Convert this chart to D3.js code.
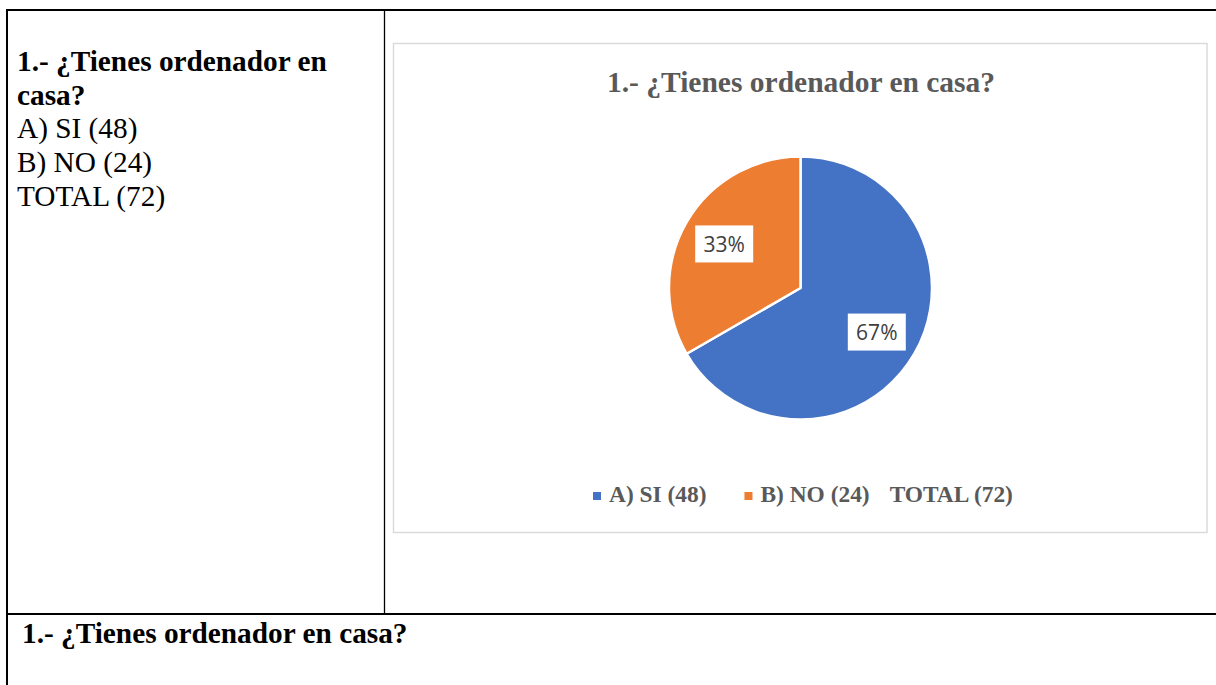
<!DOCTYPE html>
<html>
<head>
<meta charset="utf-8">
<script src="https://cdn.jsdelivr.net/npm/d3@7"></script>
<style>
  body { margin: 0; background: #fff; }
  svg { display: block; }
</style>
</head>
<body>
<div id="plot"></div>
<script>
// chart data
const question = "1.- ¿Tienes ordenador en casa?";
const categories = ["A) SI (48)", "B) NO (24)", "TOTAL (72)"];
const values = [48, 24, 0];
const colors = ["#4472C4", "#ED7D31", "none"];
const sideLines = ["A) SI (48)", "B) NO (24)", "TOTAL (72)"];

const width = 1216, height = 685;
const serif = "'Liberation Serif', 'Times New Roman', serif";

const svg = d3.select("#plot").append("svg")
    .attr("width", width)
    .attr("height", height);

// table grid
const grid = svg.append("g").attr("stroke", "#000").attr("fill", "none");
grid.append("line").attr("x1", 7).attr("x2", width).attr("y1", 10).attr("y2", 10).attr("stroke-width", 2);
grid.append("line").attr("x1", 7).attr("x2", 7).attr("y1", 9).attr("y2", height).attr("stroke-width", 2);
grid.append("line").attr("x1", 384.5).attr("x2", 384.5).attr("y1", 10).attr("y2", 614).attr("stroke-width", 1.3);
grid.append("line").attr("x1", 7).attr("x2", width).attr("y1", 614).attr("y2", 614).attr("stroke-width", 2);

// left cell text
const left = svg.append("text")
    .attr("x", 17)
    .attr("y", 71)
    .style("font-family", serif)
    .style("font-size", "29.3px")
    .attr("fill", "#000");
left.append("tspan").attr("x", 17).attr("dy", 0).style("font-weight", "bold").text("1.- ¿Tienes ordenador en");
left.append("tspan").attr("x", 17).attr("dy", 33.7).style("font-weight", "bold").text("casa?");
sideLines.forEach(t => {
    left.append("tspan").attr("x", 17).attr("dy", 33.7).text(t);
});

// bottom row text
svg.append("text")
    .attr("x", 22)
    .attr("y", 643)
    .style("font-family", serif)
    .style("font-size", "29.3px")
    .style("font-weight", "bold")
    .text(question);

// chart area frame
const box = { x: 393.5, y: 43.5, w: 813.5, h: 489 };
svg.append("rect")
    .attr("x", box.x).attr("y", box.y)
    .attr("width", box.w).attr("height", box.h)
    .attr("fill", "#fff")
    .attr("stroke", "#d9d9d9")
    .attr("stroke-width", 1.4);

// chart title
svg.append("text")
    .attr("x", 801)
    .attr("y", 92)
    .attr("text-anchor", "middle")
    .style("font-family", serif)
    .style("font-size", "29.5px")
    .style("font-weight", "bold")
    .attr("fill", "#595959")
    .text(question);

// pie
const cx = 800.5, cy = 288, r = 131.5;
const slices = categories.map((c, i) => ({ name: c, value: values[i], color: colors[i] }))
    .filter(d => d.value > 0);
const total = d3.sum(slices, d => d.value);

const pie = d3.pie().sort(null).value(d => d.value);
const arc = d3.arc().innerRadius(0).outerRadius(r);
const labelArc = d3.arc().innerRadius(r * 0.67).outerRadius(r * 0.67);

const pg = svg.append("g").attr("transform", `translate(${cx},${cy})`);
const arcs = pie(slices);

pg.selectAll("path")
    .data(arcs)
    .enter().append("path")
    .attr("d", arc)
    .attr("fill", d => d.data.color)
    .attr("stroke", "#fff")
    .attr("stroke-width", 2.5)
    .attr("stroke-linejoin", "round");

const labels = pg.selectAll("g.lbl")
    .data(arcs)
    .enter().append("g")
    .attr("class", "lbl")
    .attr("transform", d => `translate(${labelArc.centroid(d)})`);

labels.append("rect")
    .attr("x", -29).attr("y", -18.5)
    .attr("width", 58).attr("height", 37)
    .attr("fill", "#fff");

labels.append("text")
    .attr("text-anchor", "middle")
    .attr("dy", "0.36em")
    .style("font-family", "'Open Sans', 'Noto Sans', sans-serif")
    .style("font-size", "21px")
    .attr("fill", "#404040")
    .text(d => d3.format(".0%")(d.data.value / total));

// legend
const legend = svg.append("g").attr("transform", "translate(593,502)");
const gaps = [38, 20];
let lx = 0;
categories.forEach((c, i) => {
    if (colors[i] !== "none") {
        legend.append("rect")
            .attr("x", lx).attr("y", -10)
            .attr("width", 8).attr("height", 8)
            .attr("fill", colors[i]);
        lx += 16;
    }
    const t = legend.append("text")
        .attr("x", lx)
        .attr("y", 0)
        .style("font-family", serif)
        .style("font-size", "23.4px")
        .style("font-weight", "bold")
        .attr("fill", "#595959")
        .text(c);
    lx += t.node().getComputedTextLength() + (gaps[i] || 0);
});
</script>
</body>
</html>
